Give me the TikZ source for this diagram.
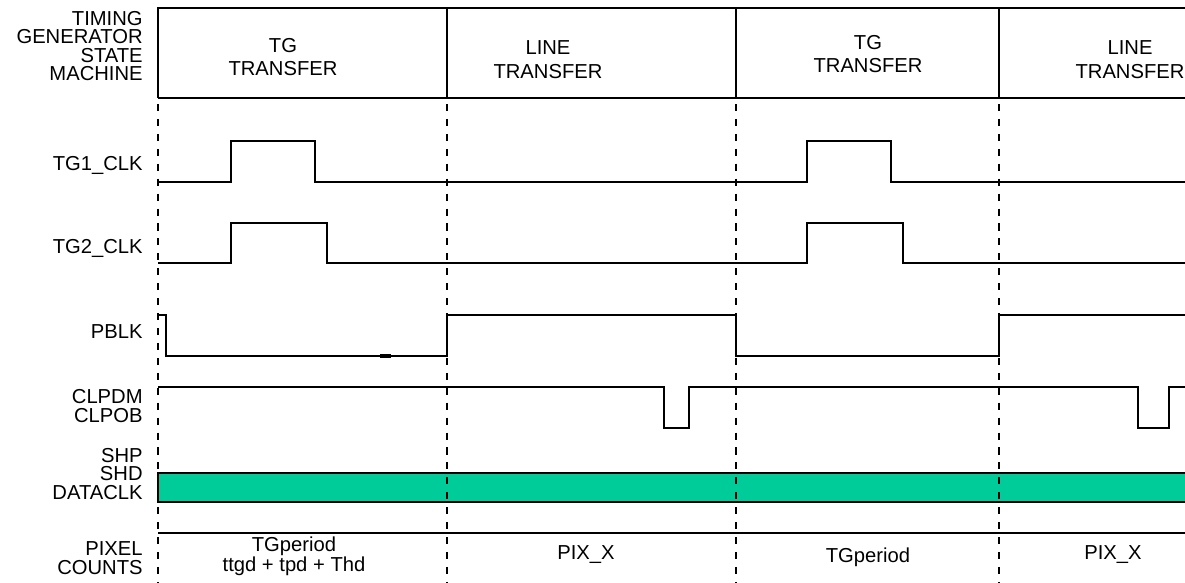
\documentclass[tikz,border=0pt]{standalone}
\usepackage{fontspec}
\setmainfont{Liberation Sans}
\usetikzlibrary{positioning}
\definecolor{bandgreen}{RGB}{0,204,153}
\tikzset{
  sig/.style  ={line width=0.9pt,line join=miter},
  frame/.style={line width=1.1pt},
  grid/.style ={line width=1.1pt,dash pattern=on 4pt off 4.5pt},
  lab/.style  ={anchor=east,align=right,inner sep=0pt,font=\fontsize{11.5}{10.5}\selectfont},
  txt/.style  ={align=center,inner sep=0pt,font=\fontsize{11.5}{11.5}\selectfont},
  hdr/.style  ={align=center,inner sep=0pt,font=\fontsize{11.5}{13.5}\selectfont},
}

\begin{document}
\begin{tikzpicture}[x=0.02cm,y=-0.02cm]
  \useasboundingbox (0,0) rectangle (1185,582);
  % state machine row
  \draw[frame] (1185,8) -- (158,8) -- (158,98);
  \foreach \x in {447,736,999} \draw[frame] (\x,8) -- (\x,98);
  \draw[line width=1.7pt] (158,98) -- (1185,98);
  \node[hdr] (st1) at (283,57){TG\\TRANSFER};
  \node[hdr] (st2) at (548,60){LINE\\TRANSFER};
  \node[hdr] (st3) at (868,54){TG\\TRANSFER};
  \node[hdr] (st4) at (1130,60){LINE\\TRANSFER};
  % data clock band
  \fill[bandgreen] (158,473) rectangle (1185,502);
  \draw[frame] (1185,473) -- (158,473) -- (158,502) -- (1185,502);
  % phase boundaries
  \foreach \x in {158,447,736,999} \draw[grid] (\x,104) -- (\x,582);
  % waveforms
  \draw[sig] (158,182) -| (231,141) -| (315,182) -| (807,141) -| (891,182) -- (1185,182);
  \draw[sig] (158,263) -| (231,223) -| (327,263) -| (807,223) -| (903,263) -- (1185,263);
  \draw[sig] (158,315) -| (166,356) -| (447,315) -| (736,356) -| (999,315) -- (1185,315);
  \draw[line width=2pt] (380,356) -- (391,356);
  \draw[sig] (158,387) -| (664,428) -| (689,387) -| (1138,428) -| (1169,387) -- (1185,387);
  \draw[frame] (158,533) -- (1185,533);
  % signal names
  \node[lab] (tgsm) at (143,46){TIMING\\GENERATOR\\STATE\\MACHINE};
  \node[lab] (tg1) at (143,165){TG1\_CLK};
  \node[lab] (tg2) at (143,248){TG2\_CLK};
  \node[lab] (pblk) at (143,332){PBLK};
  \node[lab] (clp) at (143,406){CLPDM\\CLPOB};
  \node[lab] (shp) at (143,474){SHP\\SHD\\DATACLK};
  \node[lab] (pix) at (143,558){PIXEL\\COUNTS};
  % pixel counts
  \node[txt] (cnt1) at (294,556){TGperiod\\ttgd + tpd + Thd};
  \node[txt] (cnt2) at (586,555){PIX\_X};
  \node[txt] (cnt3) at (868,557){TGperiod};
  \node[txt] (cnt4) at (1113,555){PIX\_X};
\end{tikzpicture}
\end{document}
